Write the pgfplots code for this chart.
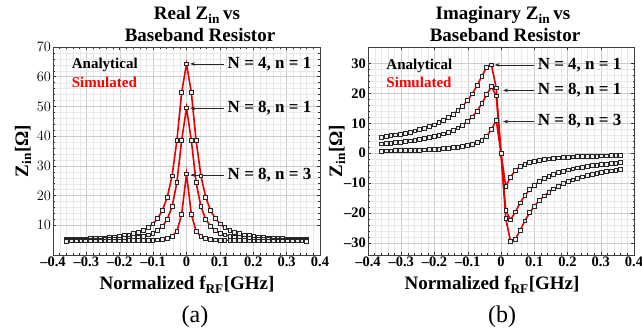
\documentclass[border=0pt]{standalone}
\usepackage{fontspec}
\setmainfont{Liberation Serif}
\usepackage{pgfplots}
\pgfplotsset{compat=1.18}
\usepackage{pgfplotstable}
\usetikzlibrary{arrows.meta}

\pgfplotstableread{
x c1 c2 c3
-0.3600 5.20 4.92 4.72
-0.3456 5.24 4.94 4.73
-0.3312 5.29 4.96 4.73
-0.3168 5.34 4.99 4.73
-0.3024 5.40 5.02 4.73
-0.2880 5.47 5.05 4.74
-0.2736 5.55 5.09 4.74
-0.2592 5.65 5.13 4.75
-0.2448 5.76 5.18 4.75
-0.2304 5.90 5.24 4.76
-0.2160 6.06 5.32 4.77
-0.2016 6.26 5.41 4.78
-0.1872 6.50 5.52 4.79
-0.1728 6.80 5.65 4.80
-0.1584 7.18 5.83 4.82
-0.1440 7.67 6.06 4.85
-0.1296 8.33 6.37 4.89
-0.1152 9.22 6.79 4.93
-0.1008 10.47 7.39 5.01
-0.0864 12.29 8.29 5.11
-0.0720 15.05 9.69 5.29
-0.0576 19.43 12.04 5.61
-0.0432 26.66 16.28 6.27
-0.0288 38.53 24.39 7.95
-0.0144 54.76 38.67 13.78
0.0000 64.30 49.50 27.30
0.0144 54.76 38.67 13.78
0.0288 38.53 24.39 7.95
0.0432 26.66 16.28 6.27
0.0576 19.43 12.04 5.61
0.0720 15.05 9.69 5.29
0.0864 12.29 8.29 5.11
0.1008 10.47 7.39 5.01
0.1152 9.22 6.79 4.93
0.1296 8.33 6.37 4.89
0.1440 7.67 6.06 4.85
0.1584 7.18 5.83 4.82
0.1728 6.80 5.65 4.80
0.1872 6.50 5.52 4.79
0.2016 6.26 5.41 4.78
0.2160 6.06 5.32 4.77
0.2304 5.90 5.24 4.76
0.2448 5.76 5.18 4.75
0.2592 5.65 5.13 4.75
0.2736 5.55 5.09 4.74
0.2880 5.47 5.05 4.74
0.3024 5.40 5.02 4.73
0.3168 5.34 4.99 4.73
0.3312 5.29 4.96 4.73
0.3456 5.24 4.94 4.73
0.3600 5.20 4.92 4.72
}\realdata

\pgfplotstableread{
x c1 c2 c3
-0.3600 5.42 3.16 0.74
-0.3456 5.64 3.29 0.77
-0.3312 5.88 3.43 0.80
-0.3168 6.14 3.58 0.84
-0.3024 6.43 3.75 0.88
-0.2880 6.74 3.94 0.92
-0.2736 7.09 4.14 0.97
-0.2592 7.47 4.37 1.03
-0.2448 7.89 4.62 1.09
-0.2304 8.37 4.90 1.15
-0.2160 8.90 5.22 1.23
-0.2016 9.50 5.58 1.32
-0.1872 10.19 5.99 1.42
-0.1728 10.98 6.47 1.54
-0.1584 11.90 7.03 1.67
-0.1440 12.98 7.69 1.84
-0.1296 14.25 8.49 2.04
-0.1152 15.78 9.45 2.29
-0.1008 17.62 10.65 2.61
-0.0864 19.87 12.16 3.03
-0.0720 22.57 14.10 3.61
-0.0576 25.71 16.58 4.44
-0.0432 28.75 19.61 5.74
-0.0288 29.52 22.23 7.93
-0.0144 21.85 19.18 11.08
0.0000 0.00 0.00 0.00
0.0144 -21.85 -19.18 -11.08
0.0288 -29.52 -22.23 -7.93
0.0432 -28.75 -19.61 -5.74
0.0576 -25.71 -16.58 -4.44
0.0720 -22.57 -14.10 -3.61
0.0864 -19.87 -12.16 -3.03
0.1008 -17.62 -10.65 -2.61
0.1152 -15.78 -9.45 -2.29
0.1296 -14.25 -8.49 -2.04
0.1440 -12.98 -7.69 -1.84
0.1584 -11.90 -7.03 -1.67
0.1728 -10.98 -6.47 -1.54
0.1872 -10.19 -5.99 -1.42
0.2016 -9.50 -5.58 -1.32
0.2160 -8.90 -5.22 -1.23
0.2304 -8.37 -4.90 -1.15
0.2448 -7.89 -4.62 -1.09
0.2592 -7.47 -4.37 -1.03
0.2736 -7.09 -4.14 -0.97
0.2880 -6.74 -3.94 -0.92
0.3024 -6.43 -3.75 -0.88
0.3168 -6.14 -3.58 -0.84
0.3312 -5.88 -3.43 -0.80
0.3456 -5.64 -3.29 -0.77
0.3600 -5.42 -3.16 -0.74
}\imagdata

\pgfplotsset{
  zstyle/.style={
    scale only axis, height=208bp,
    xmin=-0.4, xmax=0.4,
    xtick={-0.4,-0.3,-0.2,-0.1,0,0.1,0.2,0.3,0.4},
    xticklabels={\textendash0.4,\textendash0.3,\textendash0.2,\textendash0.1,0,0.1,0.2,0.3,0.4},
    minor x tick num=4, minor y tick num=4,
    grid=both,
    major grid style={gray!40, line width=0.45bp},
    minor grid style={gray!18, line width=0.3bp},
    tick align=inside,
    major tick length=3bp, minor tick length=1.5bp,
    tick style={black!80, line width=0.5bp},
    axis line style={black!75, line width=0.7bp},
    ticklabel style={font=\fontsize{14.5bp}{15bp}\selectfont\bfseries},
    xticklabel style={inner sep=1.5bp},
    yticklabel style={inner sep=2bp},
    clip=false,
  },
  simline/.style={red!90!black, line width=1.6bp, no markers},
  anamark/.style={only marks, mark=square*, mark size=1.9bp,
    mark options={draw=black!85, fill=gray!15, line width=0.7bp}},
}
\tikzset{
  annot/.style={anchor=west, font=\fontsize{17bp}{17bp}\selectfont\bfseries, inner sep=0pt},
  annarrow/.style={-{Stealth[length=5bp,width=3.5bp]}, black!85, line width=0.6bp},
}

\begin{document}
\begin{tikzpicture}
\useasboundingbox (0,0) rectangle (642bp,335bp);

% titles
\node[anchor=base, font=\fontsize{19bp}{19bp}\selectfont\bfseries] at (197bp,315bp) {Real Z\textsubscript{in}\,vs};
\node[anchor=base, font=\fontsize{19bp}{19bp}\selectfont\bfseries] at (200bp,293bp) {Baseband Resistor};
\node[anchor=base, font=\fontsize{19bp}{19bp}\selectfont\bfseries] at (503bp,315bp) {Imaginary Z\textsubscript{in}\,vs};
\node[anchor=base, font=\fontsize{19bp}{19bp}\selectfont\bfseries] at (505bp,293bp) {Baseband Resistor};

% x labels
\node[anchor=base, font=\fontsize{19bp}{19bp}\selectfont\bfseries] at (187bp,45bp) {Normalized f\textsubscript{RF}[GHz]};
\node[anchor=base, font=\fontsize{19bp}{19bp}\selectfont\bfseries] at (492bp,45bp) {Normalized f\textsubscript{RF}[GHz]};

% y labels
\node[rotate=90, font=\fontsize{19bp}{19bp}\selectfont\bfseries] at (23bp,184bp) {Z\textsubscript{in}[Ω]};
\node[rotate=90, font=\fontsize{19bp}{19bp}\selectfont\bfseries] at (337bp,184bp) {Z\textsubscript{in}[Ω]};

% captions
\node[anchor=base, font=\fontsize{24bp}{24bp}\selectfont] at (195bp,13bp) {(a)};
\node[anchor=base, font=\fontsize{24bp}{24bp}\selectfont] at (502bp,13bp) {(b)};

\begin{axis}[zstyle, at={(53bp,80bp)}, anchor=south west, width=267bp,
  ymin=0, ymax=70, ytick={10,20,30,40,50,60,70}]
\addplot[simline] table[x=x,y=c1] {\realdata};
\addplot[simline] table[x=x,y=c2] {\realdata};
\addplot[simline] table[x=x,y=c3] {\realdata};
\addplot[anamark] table[x=x,y=c1] {\realdata};
\addplot[anamark] table[x=x,y=c2] {\realdata};
\addplot[anamark] table[x=x,y=c3] {\realdata};
\node[anchor=base west, font=\fontsize{15bp}{15bp}\selectfont\bfseries, inner sep=0pt] at (axis cs:-0.344,62.9) {Analytical};
\node[anchor=base west, font=\fontsize{15bp}{15bp}\selectfont\bfseries, inner sep=0pt, text=red] at (axis cs:-0.344,56.5) {Simulated};
\draw[annarrow] (axis cs:0.113,64.3) -- (axis cs:0.011,64.3);
\node[annot] at (axis cs:0.123,64.3) {N = 4, n = 1};
\draw[annarrow] (axis cs:0.113,49.4) -- (axis cs:0.011,49.4);
\node[annot] at (axis cs:0.123,49.4) {N = 8, n = 1};
\draw[annarrow] (axis cs:0.113,26.9) -- (axis cs:0.011,26.9);
\node[annot] at (axis cs:0.123,26.9) {N = 8, n = 3};
\end{axis}

\begin{axis}[zstyle, at={(368bp,80bp)}, anchor=south west, width=266bp,
  ymin=-34, ymax=35.5, ytick={-30,-20,-10,0,10,20,30},
  yticklabels={\textendash30,\textendash20,\textendash10,0,10,20,30}]
\addplot[simline] table[x=x,y=c1] {\imagdata};
\addplot[simline] table[x=x,y=c2] {\imagdata};
\addplot[simline] table[x=x,y=c3] {\imagdata};
\addplot[anamark] table[x=x,y=c1] {\imagdata};
\addplot[anamark] table[x=x,y=c2] {\imagdata};
\addplot[anamark] table[x=x,y=c3] {\imagdata};
\node[anchor=base west, font=\fontsize{15bp}{15bp}\selectfont\bfseries, inner sep=0pt] at (axis cs:-0.345,27.9) {Analytical};
\node[anchor=base west, font=\fontsize{15bp}{15bp}\selectfont\bfseries, inner sep=0pt, text=red] at (axis cs:-0.345,21.9) {Simulated};
\draw[annarrow] (axis cs:0.100,29.5) -- (axis cs:-0.019,29.5);
\node[annot] at (axis cs:0.110,29.5) {N = 4, n = 1};
\draw[annarrow] (axis cs:0.100,21.0) -- (axis cs:0.006,21.0);
\node[annot] at (axis cs:0.110,21.0) {N = 8, n = 1};
\draw[annarrow] (axis cs:0.100,10.6) -- (axis cs:0.006,10.6);
\node[annot] at (axis cs:0.110,10.6) {N = 8, n = 3};
\end{axis}
\end{tikzpicture}
\end{document}
